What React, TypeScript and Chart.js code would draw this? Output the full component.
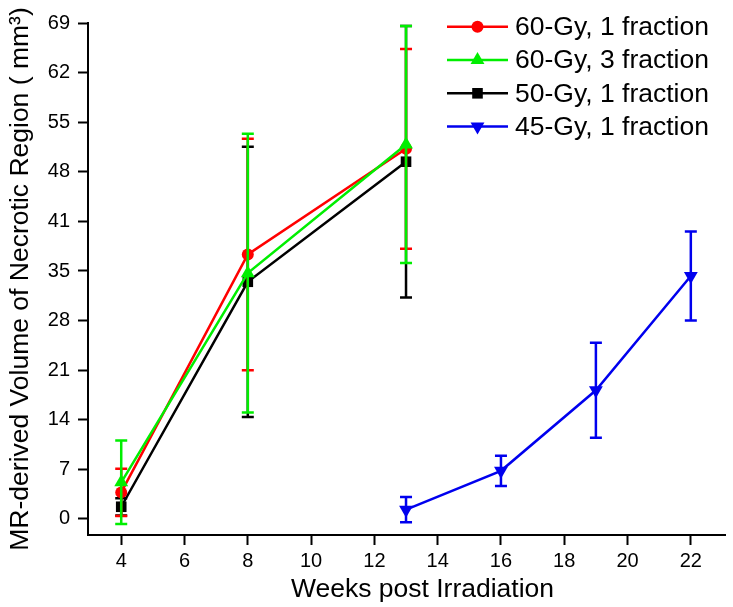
import React, { useEffect, useRef } from 'react';
import { Chart, registerables } from 'chart.js';
import { drawPoint } from 'chart.js/helpers';

Chart.register(...registerables);

// ---- data ----
const weeksEarly = [4, 8, 13];
const weeksLate = [13, 16, 19, 22];

const red60Gy1 = [3.7, 36.8, 51.5];
const red60Gy1Err = [3.3, 16.1, 13.9];

const green60Gy3 = [5.1, 34.2, 52.1];
const green60Gy3Err = [5.8, 19.4, 16.5];

const black50Gy1 = [1.7, 33.0, 49.7];
const black50Gy1Err = [1.2, 18.8, 18.9];

const blue45Gy1 = [1.3, 6.7, 17.9, 33.8];
const blue45Gy1Err = [1.75, 2.1, 6.6, 6.2];

const seriesLabels = ['60-Gy, 1 fraction', '60-Gy, 3 fraction', '50-Gy, 1 fraction', '45-Gy, 1 fraction'];

const xTickValues = [4, 6, 8, 10, 12, 14, 16, 18, 20, 22];
const yTickValues = [0, 6.9, 13.8, 20.7, 27.6, 34.5, 41.4, 48.3, 55.2, 62.1, 69];
const yTickLabels = ['0', '7', '14', '21', '28', '35', '41', '48', '55', '62', '69'];

const xTitle = 'Weeks post Irradiation';
const yTitle = 'MR-derived Volume of Necrotic Region ( mm\u00B3)';

const FONT = "'Liberation Sans', Arial, sans-serif";
const RED = '#ff0000';
const GREEN = '#00ee00';
const BLACK = '#000000';
const BLUE = '#0000ee';

const pts = (xs: number[], ys: number[]) => xs.map((x, i) => ({ x, y: ys[i] }));

const errorBarPlugin = {
  id: 'errorBars',
  afterDatasetDraw(chart: any, args: any) {
    const ds = chart.data.datasets[args.index];
    const errs: number[] = ds.errors;
    if (!errs) return;
    const { ctx } = chart;
    const xs = chart.scales.x;
    const ys = chart.scales.y;
    ctx.save();
    ctx.strokeStyle = ds.borderColor;
    ctx.lineWidth = 2.5;
    ctx.lineCap = 'butt';
    ds.data.forEach((p: any, i: number) => {
      const px = xs.getPixelForValue(p.x);
      const top = ys.getPixelForValue(p.y + errs[i]);
      const bot = ys.getPixelForValue(p.y - errs[i]);
      ctx.beginPath();
      ctx.moveTo(px, top);
      ctx.lineTo(px, bot);
      ctx.moveTo(px - 6, top);
      ctx.lineTo(px + 6, top);
      ctx.moveTo(px - 6, bot);
      ctx.lineTo(px + 6, bot);
      ctx.stroke();
    });
    ctx.restore();
  },
};

const legendPlugin = {
  id: 'customLegend',
  afterDraw(chart: any) {
    const { ctx } = chart;
    ctx.save();
    chart.data.datasets.forEach((ds: any, i: number) => {
      const y = 26.7 + i * 33.3;
      ctx.strokeStyle = ds.borderColor;
      ctx.lineWidth = 2.5;
      ctx.beginPath();
      ctx.moveTo(447, y);
      ctx.lineTo(508, y);
      ctx.stroke();
      ctx.fillStyle = ds.borderColor;
      ctx.strokeStyle = ds.borderColor;
      drawPoint(ctx, {
        pointStyle: ds.pointStyle,
        radius: ds.pointRadius,
        rotation: ds.pointRotation || 0,
        borderWidth: 0,
      } as any, 477.5, y);
      ctx.fillStyle = '#000';
      ctx.font = `26.5px ${FONT}`;
      ctx.textBaseline = 'middle';
      ctx.textAlign = 'left';
      ctx.fillText(ds.label, 515, y + 1);
    });
    // x-axis title, placed as in the reference (slightly right of the axis centre)
    ctx.font = `26.5px ${FONT}`;
    ctx.textAlign = 'center';
    ctx.textBaseline = 'middle';
    ctx.fillStyle = '#000';
    ctx.fillText(xTitle, 422.5, 590);
    ctx.restore();
  },
};

export default function App() {
  const ref = useRef<HTMLCanvasElement | null>(null);

  useEffect(() => {
    if (!ref.current) return;
    const mk = (label: string, data: any[], errors: number[], color: string, style: string, radius: number, rotation = 0, order = 0) => ({
      label,
      data,
      errors,
      borderColor: color,
      backgroundColor: color,
      pointBackgroundColor: color,
      pointBorderColor: color,
      pointBorderWidth: 0,
      borderWidth: 2.5,
      pointStyle: style,
      pointRadius: radius,
      pointRotation: rotation,
      tension: 0,
      order,
    });
    const chart = new Chart(ref.current, {
      type: 'line',
      data: {
        datasets: [
          mk(seriesLabels[0], pts(weeksEarly, red60Gy1), red60Gy1Err, RED, 'circle', 6, 0, 1),
          mk(seriesLabels[1], pts(weeksEarly, green60Gy3), green60Gy3Err, GREEN, 'triangle', 8, 0, 0),
          mk(seriesLabels[2], pts(weeksEarly, black50Gy1), black50Gy1Err, BLACK, 'rect', 7.5, 0, 2),
          mk(seriesLabels[3], pts(weeksLate, blue45Gy1), blue45Gy1Err, BLUE, 'triangle', 8, 180, 3),
        ] as any,
      },
      options: {
        responsive: false,
        animation: false,
        devicePixelRatio: 1,
        layout: { padding: { top: 23, right: 0, left: 0, bottom: 0 } },
        plugins: { legend: { display: false }, tooltip: { enabled: false } },
        scales: {
          x: {
            type: 'linear',
            min: 2.95,
            max: 23.08,
            afterBuildTicks: (s: any) => {
              s.ticks = xTickValues.map((v) => ({ value: v }));
            },
            afterFit: (s: any) => {
              s.height = 72;
            },
            ticks: {
              font: { size: 20, family: FONT },
              color: '#000',
              padding: 4,
              maxRotation: 0,
              autoSkip: false,
            },
            grid: { drawOnChartArea: false, drawTicks: true, tickLength: 10, tickColor: '#000', tickWidth: 2 },
            border: { display: true, color: '#000', width: 2 },
            title: { display: false },
          },
          y: {
            type: 'linear',
            min: -2.23,
            max: 69,
            afterBuildTicks: (s: any) => {
              s.ticks = yTickValues.map((v) => ({ value: v }));
            },
            afterFit: (s: any) => {
              s.width = 88;
            },
            ticks: {
              font: { size: 20, family: FONT },
              color: '#000',
              padding: 8,
              autoSkip: false,
              callback: (v: any) => {
                const idx = yTickValues.findIndex((t) => Math.abs(t - Number(v)) < 1e-6);
                return idx >= 0 ? yTickLabels[idx] : '';
              },
            },
            grid: { drawOnChartArea: false, drawTicks: true, tickLength: 10, tickColor: '#000', tickWidth: 2 },
            border: { display: true, color: '#000', width: 2 },
            title: {
              display: true,
              text: yTitle,
              font: { size: 26.5, family: FONT },
              color: '#000',
              padding: { top: 5, bottom: 0 },
            },
          },
        },
      } as any,
      plugins: [errorBarPlugin, legendPlugin],
    });
    return () => chart.destroy();
  }, []);

  return (
    <div style={{ position: 'absolute', left: 0, top: 0, width: 733, height: 607, background: '#fff', overflow: 'hidden' }}>
      <canvas ref={ref} width={733} height={607} style={{ display: 'block' }} />
    </div>
  );
}
